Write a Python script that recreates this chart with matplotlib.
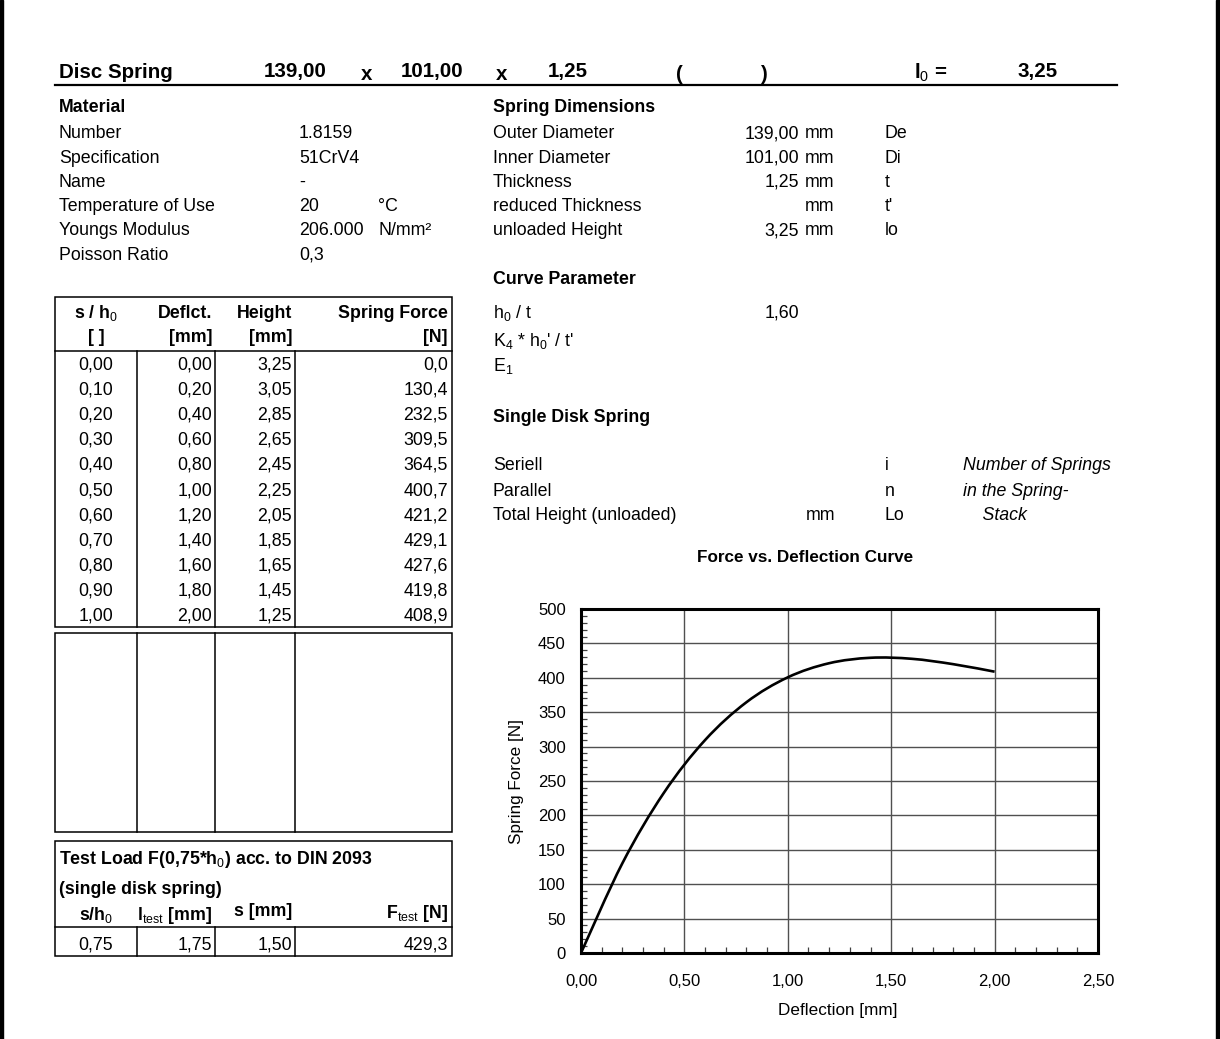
import matplotlib
matplotlib.use('Agg')
import matplotlib.pyplot as plt
from matplotlib.patches import Rectangle, PathPatch
from matplotlib.path import Path
from matplotlib.ticker import MultipleLocator, FuncFormatter

plt.rcParams['font.family'] = ['Liberation Sans', 'DejaVu Sans']
plt.rcParams['mathtext.fontset'] = 'custom'
plt.rcParams['mathtext.rm'] = 'Liberation Sans'
plt.rcParams['mathtext.it'] = 'Liberation Sans:italic'
plt.rcParams['mathtext.bf'] = 'Liberation Sans:bold'

# ---- data ----
dims = ['139,00', '101,00', '1,25']
l0 = '3,25'

material_labels = ['Number', 'Specification', 'Name', 'Temperature of Use', 'Youngs Modulus', 'Poisson Ratio']
material_values = ['1.8159', '51CrV4', '-', '20', '206.000', '0,3']
material_units = ['', '', '', '°C', 'N/mm²', '']

dim_labels = ['Outer Diameter', 'Inner Diameter', 'Thickness', 'reduced Thickness', 'unloaded Height']
dim_values = ['139,00', '101,00', '1,25', '', '3,25']
dim_symbols = ['De', 'Di', 't', "t'", 'lo']

curve_labels = ['h$_0$ / t', "K$_4$ * h$_0$' / t'", 'E$_1$']
curve_values = ['1,60', '', '']

stack_labels = ['Seriell', 'Parallel', 'Total Height (unloaded)']
stack_symbols = ['i', 'n', 'Lo']
stack_notes = ['Number of Springs', 'in the Spring-', '    Stack']

s_h0 = [0.00, 0.10, 0.20, 0.30, 0.40, 0.50, 0.60, 0.70, 0.80, 0.90, 1.00]
deflection = [0.00, 0.20, 0.40, 0.60, 0.80, 1.00, 1.20, 1.40, 1.60, 1.80, 2.00]
height = [3.25, 3.05, 2.85, 2.65, 2.45, 2.25, 2.05, 1.85, 1.65, 1.45, 1.25]
force = [0.0, 130.4, 232.5, 309.5, 364.5, 400.7, 421.2, 429.1, 427.6, 419.8, 408.9]

test_row = [0.75, 1.75, 1.50, 429.3]


def fmt(v, d):
    return f'{v:.{d}f}'.replace('.', ',')


W, H = 1220, 1039
fig = plt.figure(figsize=(W / 100, H / 100), dpi=100)
bg = fig.add_axes([0, 0, 1, 1], zorder=0)
bg.set_xlim(0, W)
bg.set_ylim(H, 0)
bg.axis('off')

FS = 12.8
TFS = 14.8

def t(x, y, s, ha='left', bold=False, size=FS, **kw):
    # y is the visual centre; nudge for the font's box
    bg.text(x, y + 2, s, ha=ha, va='center', fontsize=size,
            fontweight='bold' if bold else 'normal', **kw)

# side bars
bg.add_patch(Rectangle((0, 0), 3, H, color='k'))
bg.add_patch(Rectangle((1216, 0), 4, H, color='k'))

# title row
t(59, 70, 'Disc Spring', bold=True, size=TFS)
t(295, 70, dims[0], ha='center', bold=True, size=TFS)
t(367, 72, 'x', ha='center', bold=True, size=TFS)
t(432, 70, dims[1], ha='center', bold=True, size=TFS)
t(502, 72, 'x', ha='center', bold=True, size=TFS)
t(568, 70, dims[2], ha='center', bold=True, size=TFS)
t(679, 72, '(', ha='center', bold=True, size=TFS)
t(763, 72, ')', ha='center', bold=True, size=TFS)
t(914, 71, 'l$_0$ =', bold=True, size=TFS)
t(1038, 70, l0, ha='center', bold=True, size=TFS)
bg.plot([55, 1117], [85, 85], color='k', lw=1.6)

# material block
t(59, 105, 'Material', bold=True)
for i, (lab, val, unit) in enumerate(zip(material_labels, material_values, material_units)):
    y = 132 + 24.2 * i
    t(59, y, lab)
    t(299, y, val)
    if unit:
        t(378, y, unit)

# spring dimensions
t(493, 105, 'Spring Dimensions', bold=True)
for i, (lab, val, sym) in enumerate(zip(dim_labels, dim_values, dim_symbols)):
    y = 132 + 24.2 * i
    t(493, y, lab)
    if val:
        t(799, y, val, ha='right')
    t(805, y, 'mm')
    t(885, y, sym)

# curve parameter
t(493, 277, 'Curve Parameter', bold=True)
for i, (lab, val) in enumerate(zip(curve_labels, curve_values)):
    y = [311, 339, 364][i]
    t(493, y, lab)
    if val:
        t(799, y, val, ha='right')

t(493, 415, 'Single Disk Spring', bold=True)
for i, (lab, sym, note) in enumerate(zip(stack_labels, stack_symbols, stack_notes)):
    y = 464 + 25 * i
    t(493, y, lab)
    t(885, y, sym)
    t(963, y, note, style='italic')
t(806, 514, 'mm')

# results table
bg.add_patch(Rectangle((55, 297), 397, 330, fill=False, lw=1.1, color='k'))
bg.plot([55, 452], [351, 351], color='k', lw=1.1)
for xc in [137, 215, 295]:
    bg.plot([xc, xc], [351, 627], color='k', lw=1.1)
t(96, 311, 's / h$_0$', ha='center', bold=True)
t(212, 311, 'Deflct.', ha='right', bold=True)
t(292, 311, 'Height', ha='right', bold=True)
t(448, 311, 'Spring Force', ha='right', bold=True)
t(96, 336, '[ ]', ha='center', bold=True)
t(212, 336, '[mm]', ha='right', bold=True)
t(292, 336, '[mm]', ha='right', bold=True)
t(448, 336, '[N]', ha='right', bold=True)
for i in range(len(s_h0)):
    y = 363 + 25.1 * i
    t(96, y, fmt(s_h0[i], 2), ha='center')
    t(212, y, fmt(deflection[i], 2), ha='right')
    t(292, y, fmt(height[i], 2), ha='right')
    t(448, y, fmt(force[i], 1), ha='right')

# empty box
bg.add_patch(Rectangle((55, 633), 397, 199, fill=False, lw=1.1, color='k'))
for xc in [137, 215, 295]:
    bg.plot([xc, xc], [633, 832], color='k', lw=1.1)

# test load box
bg.add_patch(Rectangle((55, 841), 397, 115, fill=False, lw=1.1, color='k'))
bg.plot([55, 452], [927, 927], color='k', lw=1.1)
for xc in [137, 215, 295]:
    bg.plot([xc, xc], [927, 956], color='k', lw=1.1)
t(59, 857, 'Test Load F(0,75*h$_0$) acc. to DIN 2093', bold=True)
t(59, 887, '(single disk spring)', bold=True)
t(96, 913, 's/h$_0$', ha='center', bold=True)
t(212, 913, 'l$_{\\mathrm{test}}$ [mm]', ha='right', bold=True)
t(292, 910, 's [mm]', ha='right', bold=True)
t(448, 911, 'F$_{\\mathrm{test}}$ [N]', ha='right', bold=True)
t(96, 943, fmt(test_row[0], 2), ha='center')
t(212, 943, fmt(test_row[1], 2), ha='right')
t(292, 943, fmt(test_row[2], 2), ha='right')
t(448, 943, fmt(test_row[3], 1), ha='right')

# chart
t(805, 555, 'Force vs. Deflection Curve', ha='center', bold=True, size=12.3)
t(516, 780, 'Spring Force [N]', ha='center', size=12.3, rotation=90)
t(838, 1008, 'Deflection [mm]', ha='center', size=12.3)

ax = fig.add_axes([581 / W, 1 - 953 / H, 517 / W, 344 / H], zorder=2)
ax.set_xlim(0, 2.5)
ax.set_ylim(0, 500)
ax.xaxis.set_major_locator(MultipleLocator(0.5))
ax.xaxis.set_minor_locator(MultipleLocator(0.1))
ax.yaxis.set_major_locator(MultipleLocator(50))
ax.yaxis.set_minor_locator(MultipleLocator(10))
ax.xaxis.set_major_formatter(FuncFormatter(lambda v, p: fmt(v, 2)))
ax.yaxis.set_major_formatter(FuncFormatter(lambda v, p: f'{v:.0f}'))
ax.grid(which='major', color='#505050', lw=1.0)
ax.set_axisbelow(True)
ax.tick_params(which='major', length=0, labelsize=12)
ax.tick_params(axis='y', which='major', pad=11)
ax.tick_params(axis='x', which='major', pad=15)
ax.tick_params(which='minor', direction='in', length=4, width=0.9,
               top=False, right=False, color='#404040')
for sp in ax.spines.values():
    sp.set_linewidth(2.2)

# smoothed line through the table points (Excel-style bezier)
pts = list(zip(deflection, force))
verts = [pts[0]]
codes = [Path.MOVETO]
n = len(pts)
for i in range(n - 1):
    p0 = pts[max(i - 1, 0)]
    p1 = pts[i]
    p2 = pts[i + 1]
    p3 = pts[min(i + 2, n - 1)]
    c1 = (p1[0] + (p2[0] - p0[0]) / 6, p1[1] + (p2[1] - p0[1]) / 6)
    c2 = (p2[0] - (p3[0] - p1[0]) / 6, p2[1] - (p3[1] - p1[1]) / 6)
    verts += [c1, c2, p2]
    codes += [Path.CURVE4] * 3
ax.add_patch(PathPatch(Path(verts, codes), fill=False, lw=1.9, color='k', capstyle='butt'))

fig.savefig('out.png', dpi=100)
